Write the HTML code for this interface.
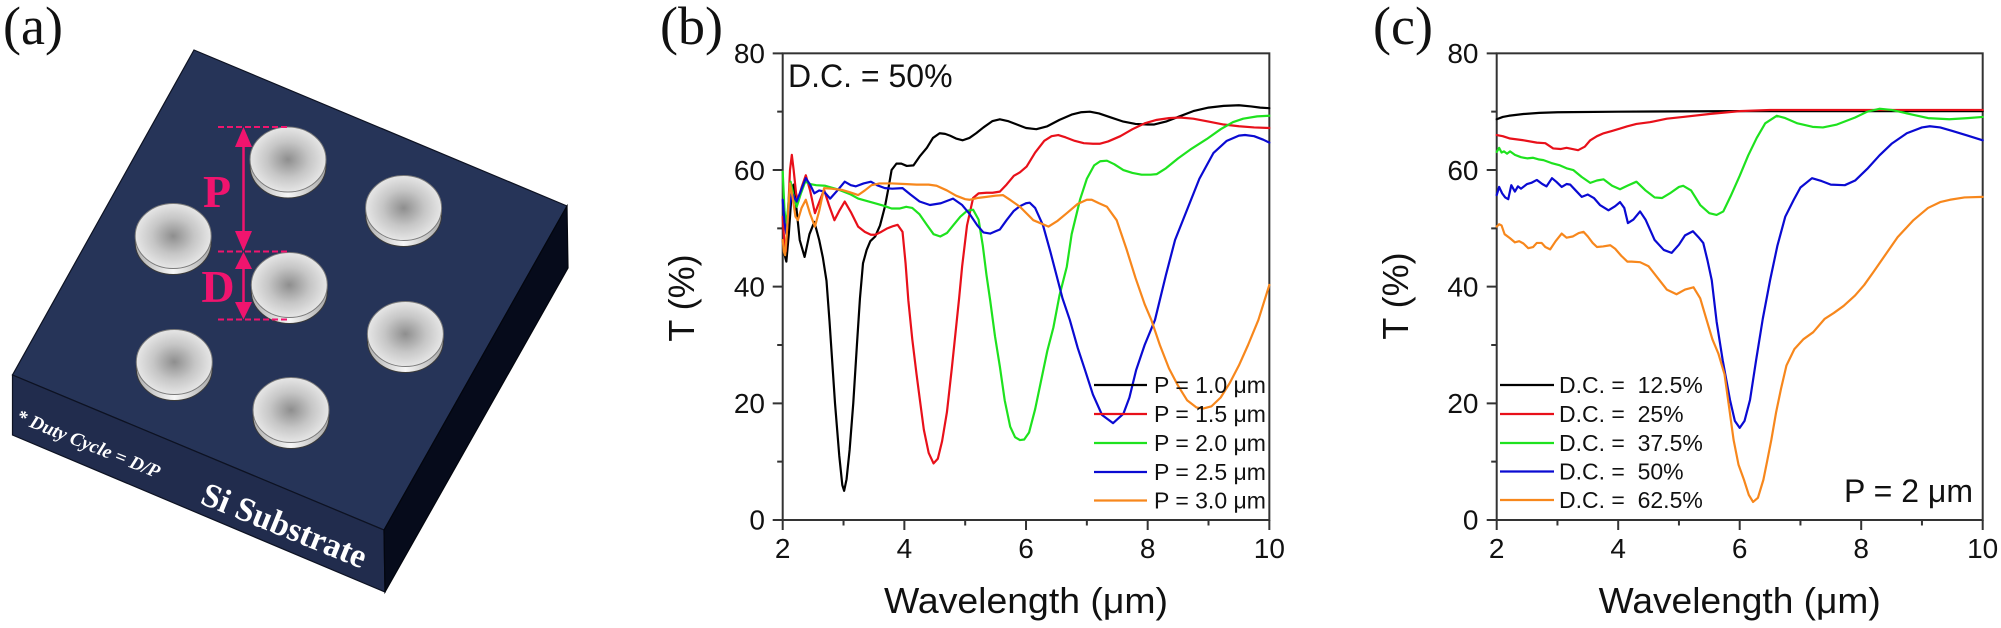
<!DOCTYPE html>
<html><head><meta charset="utf-8">
<style>
html,body{margin:0;padding:0;background:#fff;}
svg{display:block}
.sans{font-family:"Liberation Sans",Arial,sans-serif;}
.serif{font-family:"Liberation Serif","Times New Roman",serif;}
polyline.c{fill:none;stroke-width:2.2;vector-effect:non-scaling-stroke;stroke-linejoin:round;stroke-linecap:round;}
.k{stroke:#000}.r{stroke:#e8101a}.g{stroke:#1ee21e}.b{stroke:#0a0ad2}.o{stroke:#f7871c}
</style></head>
<body>
<svg width="2001" height="628" viewBox="0 0 2001 628" xmlns="http://www.w3.org/2000/svg">
<defs>
<radialGradient id="dg" cx="0.5" cy="0.5" r="0.5">
<stop offset="0" stop-color="#8e8e8e"/><stop offset="0.55" stop-color="#c6c6c6"/><stop offset="1" stop-color="#e6e6e6"/>
</radialGradient>
<linearGradient id="rg" x1="0" y1="0" x2="1" y2="0">
<stop offset="0" stop-color="#b0b0b0"/><stop offset="0.5" stop-color="#f6f6f6"/><stop offset="1" stop-color="#a8a8a8"/>
</linearGradient>
</defs>

<!-- Panel (a) -->
<text x="3" y="44" class="serif" font-size="54" fill="#111">(a)</text>
<polygon points="194,50 567,206 384,530 12.5,375" fill="#263458" stroke="#0d1222" stroke-width="1.2"/>
<polygon points="12.5,375 384,530 385,592 12.5,435" fill="#212c4d" stroke="#0d1222" stroke-width="1.2"/>
<polygon points="384,530 567,206 568,268 385,592" fill="#060b1b" stroke="#03060e" stroke-width="1.2"/>

<g stroke-width="1">
<ellipse cx="288" cy="166" rx="38" ry="32" fill="url(#rg)" stroke="#3a3a3a"/><ellipse cx="288" cy="159.5" rx="38" ry="32.5" fill="url(#dg)" stroke="#7a7a7a"/>
<ellipse cx="403.6" cy="214.5" rx="38" ry="32" fill="url(#rg)" stroke="#3a3a3a"/><ellipse cx="403.6" cy="208" rx="38" ry="32.5" fill="url(#dg)" stroke="#7a7a7a"/>
<ellipse cx="173.2" cy="242.5" rx="38" ry="32" fill="url(#rg)" stroke="#3a3a3a"/><ellipse cx="173.2" cy="236" rx="38" ry="32.5" fill="url(#dg)" stroke="#7a7a7a"/>
<ellipse cx="289.3" cy="291.5" rx="38" ry="32" fill="url(#rg)" stroke="#3a3a3a"/><ellipse cx="289.3" cy="285" rx="38" ry="32.5" fill="url(#dg)" stroke="#7a7a7a"/>
<ellipse cx="405.4" cy="340.5" rx="38" ry="32" fill="url(#rg)" stroke="#3a3a3a"/><ellipse cx="405.4" cy="334" rx="38" ry="32.5" fill="url(#dg)" stroke="#7a7a7a"/>
<ellipse cx="174.3" cy="368.5" rx="38" ry="32" fill="url(#rg)" stroke="#3a3a3a"/><ellipse cx="174.3" cy="362" rx="38" ry="32.5" fill="url(#dg)" stroke="#7a7a7a"/>
<ellipse cx="291" cy="416.5" rx="38" ry="32" fill="url(#rg)" stroke="#3a3a3a"/><ellipse cx="291" cy="410" rx="38" ry="32.5" fill="url(#dg)" stroke="#7a7a7a"/>
</g>

<g stroke="#f0146e" fill="#f0146e">
<path d="M218 127H288 M218 251.5H288 M218 319.5H288" stroke-width="2" stroke-dasharray="6 3" fill="none"/>
<path d="M243.5 140V238 M243.5 262V308" stroke-width="2.5" fill="none"/>
<polygon points="243.5,127 235,147 252,147" stroke="none"/>
<polygon points="243.5,251 235,231 252,231" stroke="none"/>
<polygon points="243.5,252 235,269 252,269" stroke="none"/>
<polygon points="243.5,319.5 235,302 252,302" stroke="none"/>
</g>
<text x="217" y="207" text-anchor="middle" class="serif" font-size="46" font-weight="bold" fill="#f0146e">P</text>
<text x="218" y="302" text-anchor="middle" class="serif" font-size="46" font-weight="bold" fill="#f0146e">D</text>
<text transform="translate(15,421) rotate(22)" class="serif" font-size="19" font-weight="bold" font-style="italic" fill="#fff" textLength="153" lengthAdjust="spacingAndGlyphs">* Duty Cycle = D/P</text>
<text transform="translate(199,503) rotate(22)" class="serif" font-size="34" font-weight="bold" fill="#fff" textLength="175" lengthAdjust="spacingAndGlyphs">Si Substrate</text>

<!-- Panel (b) -->
<text x="660" y="44" class="serif" font-size="54" fill="#111">(b)</text>
<rect x="782.7" y="53.33" width="486.64" height="466.67" fill="none" stroke="#333" stroke-width="2"/>
<path d="M772.7 520H782.7 M772.7 403.33H782.7 M772.7 286.67H782.7 M772.7 170H782.7 M772.7 53.33H782.7 M777.2 461.67H782.7 M777.2 345H782.7 M777.2 228.33H782.7 M777.2 111.67H782.7 M782.7 520V530 M904.36 520V530 M1026.02 520V530 M1147.68 520V530 M1269.34 520V530 M843.53 520V525.5 M965.19 520V525.5 M1086.85 520V525.5 M1208.51 520V525.5" stroke="#333" stroke-width="2" fill="none"/>
<g class="sans" font-size="28" fill="#111" text-anchor="end">
<text x="765" y="529.5">0</text><text x="765" y="413">20</text><text x="765" y="296.5">40</text><text x="765" y="180">60</text><text x="765" y="63">80</text>
</g>
<g class="sans" font-size="28" fill="#111" text-anchor="middle">
<text x="782.7" y="558">2</text><text x="904.36" y="558">4</text><text x="1026.02" y="558">6</text><text x="1147.68" y="558">8</text><text x="1269.34" y="558">10</text>
</g>
<text x="1026" y="613" text-anchor="middle" class="sans" font-size="36" fill="#111" textLength="284" lengthAdjust="spacingAndGlyphs">Wavelength (μm)</text>
<text transform="translate(694,298) rotate(-90)" text-anchor="middle" class="sans" font-size="36" fill="#111">T (%)</text>
<text x="788" y="87" class="sans" font-size="32" fill="#111">D.C. = 50%</text>

<g transform="matrix(60.83 0 0 -5.833 661.04 520)">
<polyline class="c k" points="2.0,48 2.03,45.5 2.06,44.3 2.1,49 2.14,55 2.18,57.5 2.22,54 2.28,48 2.36,45.1 2.44,49 2.52,51.1 2.6,48 2.66,45 2.72,41 2.77,34 2.86,20 2.93,11 2.98,6 3.01,5 3.05,7 3.1,12 3.16,20 3.22,30 3.27,38 3.32,44 3.38,46.3 3.44,47.8 3.52,48.6 3.6,50.5 3.68,53.7 3.74,57 3.79,60 3.87,61.1 3.95,61.1 4.04,60.7 4.15,60.8 4.25,62.3 4.37,63.8 4.47,65.5 4.58,66.3 4.67,66.2 4.75,65.9 4.85,65.4 4.96,65.1 5.07,65.5 5.18,66.3 5.3,67.3 5.45,68.4 5.57,68.7 5.7,68.4 5.85,67.8 6.0,67.2 6.17,67 6.35,67.5 6.55,68.6 6.75,69.5 6.9,69.9 7.05,70 7.2,69.7 7.4,69 7.6,68.3 7.8,67.9 8.0,67.8 8.1,67.8 8.3,68.3 8.5,69.1 8.75,70.1 9.0,70.7 9.25,71 9.5,71.1 9.7,70.9 9.85,70.7 10,70.6"/>
<polyline class="c r" points="2.0,52 2.03,47 2.05,46 2.09,53 2.12,60 2.15,62.6 2.18,60 2.22,56 2.25,54.8 2.31,57 2.38,59.1 2.45,56.5 2.53,52.6 2.6,54.5 2.68,56.6 2.76,54 2.85,51.4 2.93,53 3.02,54.6 3.12,52.8 3.24,50.3 3.35,49.4 3.45,48.9 3.52,48.9 3.62,49.4 3.72,50 3.82,50.4 3.89,50.6 3.97,49.4 4.02,44 4.065,37.7 4.13,31 4.2,25 4.25,21 4.32,15.5 4.4,11.5 4.48,9.7 4.55,10.5 4.62,13.5 4.7,18.5 4.78,26 4.86,34 4.9,38 4.95,43.5 5.03,50.5 5.13,55.2 5.22,56 5.35,56.1 5.45,56.1 5.57,56.3 5.68,57.5 5.8,59 5.9,59.6 6.01,60.6 6.15,63 6.3,65 6.42,65.8 6.53,66 6.65,65.6 6.8,65 6.95,64.6 7.1,64.5 7.21,64.5 7.35,64.9 7.55,65.8 7.75,67 7.95,68 8.15,68.6 8.35,68.9 8.53,69 8.75,68.8 9.0,68.3 9.25,67.8 9.5,67.5 9.75,67.3 10,67.2"/>
<polyline class="c g" points="2.0,59.7 2.03,53 2.06,50.3 2.1,55 2.13,58 2.17,56 2.23,53.7 2.3,56 2.37,58 2.45,57.6 2.55,57.4 2.7,57.3 2.8,57 2.9,56.7 3.0,56.3 3.12,55.8 3.24,55.1 3.38,54.7 3.52,54.3 3.65,53.9 3.79,53.4 3.92,53.4 4.03,53.7 4.13,53.5 4.25,52.4 4.37,50.6 4.48,49 4.59,48.6 4.7,49.2 4.81,50.6 4.92,52 5.03,53 5.13,53.2 5.22,51.5 5.29,47 5.35,42 5.41,37.7 5.49,31.5 5.57,26.3 5.65,20.5 5.74,16 5.82,14.2 5.9,13.7 5.97,13.8 6.05,15 6.15,19 6.25,24 6.35,29 6.45,33 6.55,38.5 6.67,43.4 6.75,49 6.89,55 7.0,58.5 7.12,60.8 7.22,61.5 7.33,61.6 7.45,61 7.6,60 7.75,59.5 7.9,59.2 8.05,59.2 8.15,59.3 8.3,60.3 8.5,62 8.7,63.5 8.97,65.3 9.2,67 9.4,68.2 9.57,68.8 9.8,69.2 10,69.3"/>
<polyline class="c b" points="2.0,54.9 2.03,51 2.06,49 2.1,53 2.15,56 2.23,54.6 2.3,56.5 2.38,58.6 2.45,57.5 2.52,56 2.6,56.5 2.68,56.3 2.78,55.1 2.9,56.5 3.02,58 3.12,57.4 3.2,57.2 3.33,57.7 3.45,58 3.55,57.4 3.68,56.9 3.8,56.8 3.97,56.9 4.1,55.8 4.25,54.6 4.42,54 4.6,54.3 4.8,55.1 4.95,54 5.07,52.5 5.2,50.5 5.3,49.3 5.41,49.1 5.5,49.5 5.57,49.8 5.68,51.4 5.8,53 5.9,53.8 6.0,54.3 6.06,54.4 6.15,53.5 6.28,50.5 6.4,46 6.5,42 6.6,38 6.72,34.3 6.85,29.5 6.97,25.7 7.1,21.5 7.25,18 7.43,16.6 7.6,18.2 7.7,21 7.81,25.7 7.95,30 8.12,34.3 8.3,42 8.45,48 8.64,53 8.85,58.5 9.08,62.9 9.3,65 9.5,65.9 9.6,66 9.75,65.8 9.9,65.2 10,64.7"/>
<polyline class="c o" points="2.0,48 2.02,46 2.04,45.4 2.08,51 2.12,57.7 2.16,55.5 2.21,52 2.25,51.4 2.31,53.5 2.38,54.9 2.45,52.5 2.53,50.3 2.6,53 2.68,56.9 2.8,56.8 2.97,56.6 3.1,56.2 3.24,55.7 3.35,56.5 3.46,57.4 3.59,57.7 3.8,57.7 4.0,57.6 4.2,57.5 4.4,57.5 4.53,57.3 4.7,56.5 4.85,55.6 5.0,55 5.07,54.9 5.2,55.2 5.35,55.4 5.5,55.6 5.62,55.7 5.75,54.8 5.9,53.7 6.12,51.4 6.37,50.3 6.52,51.3 6.67,52.6 6.85,54.2 7.0,54.9 7.08,54.9 7.2,54.3 7.33,53.7 7.49,51.4 7.65,46.5 7.8,41.5 7.95,37 8.06,34.3 8.2,30 8.35,26 8.5,23 8.65,20.5 8.8,19.3 8.91,19.1 9.05,19.5 9.2,21 9.35,23.5 9.5,26.5 9.65,30 9.82,34.3 10,40.3"/>
</g>
<g stroke-width="2.2">
<line x1="1094" y1="385" x2="1147" y2="385" stroke="#000"/>
<line x1="1094" y1="414" x2="1147" y2="414" stroke="#e8101a"/>
<line x1="1094" y1="443" x2="1147" y2="443" stroke="#1ee21e"/>
<line x1="1094" y1="472" x2="1147" y2="472" stroke="#0a0ad2"/>
<line x1="1094" y1="500.5" x2="1147" y2="500.5" stroke="#f7871c"/>
</g>
<g class="sans" font-size="23" fill="#111">
<text x="1154" y="393">P = 1.0 μm</text>
<text x="1154" y="422">P = 1.5 μm</text>
<text x="1154" y="451">P = 2.0 μm</text>
<text x="1154" y="480">P = 2.5 μm</text>
<text x="1154" y="508.5">P = 3.0 μm</text>
</g>

<!-- Panel (c) -->
<text x="1373" y="44" class="serif" font-size="54" fill="#111">(c)</text>
<rect x="1496.7" y="53.33" width="486" height="466.67" fill="none" stroke="#333" stroke-width="2"/>
<path d="M1486.7 520H1496.7 M1486.7 403.33H1496.7 M1486.7 286.67H1496.7 M1486.7 170H1496.7 M1486.7 53.33H1496.7 M1491.2 461.67H1496.7 M1491.2 345H1496.7 M1491.2 228.33H1496.7 M1491.2 111.67H1496.7 M1496.7 520V530 M1618.2 520V530 M1739.7 520V530 M1861.2 520V530 M1982.7 520V530 M1557.45 520V525.5 M1678.95 520V525.5 M1800.45 520V525.5 M1921.95 520V525.5" stroke="#333" stroke-width="2" fill="none"/>
<g class="sans" font-size="28" fill="#111" text-anchor="end">
<text x="1478.5" y="529.5">0</text><text x="1478.5" y="413">20</text><text x="1478.5" y="296.5">40</text><text x="1478.5" y="180">60</text><text x="1478.5" y="63">80</text>
</g>
<g class="sans" font-size="28" fill="#111" text-anchor="middle">
<text x="1496.7" y="558">2</text><text x="1618.2" y="558">4</text><text x="1739.7" y="558">6</text><text x="1861.2" y="558">8</text><text x="1982.7" y="558">10</text>
</g>
<text x="1739.7" y="613" text-anchor="middle" class="sans" font-size="36" fill="#111" textLength="282" lengthAdjust="spacingAndGlyphs">Wavelength (μm)</text>
<text transform="translate(1408,296) rotate(-90)" text-anchor="middle" class="sans" font-size="36" fill="#111">T (%)</text>
<text x="1973" y="502" text-anchor="end" class="sans" font-size="32" fill="#111">P = 2 μm</text>

<g transform="matrix(60.75 0 0 -5.833 1375.2 520)">
<polyline class="c k" points="2.0,68.7 2.1,69.1 2.2,69.3 2.44,69.6 2.7,69.8 3.0,69.9 4,70 6,70.1 10,70.1"/>
<polyline class="c r" points="2.0,66 2.1,65.8 2.22,65.4 2.44,65.1 2.66,64.7 2.8,64.6 2.93,63.7 3.05,63.6 3.15,63.8 3.25,63.6 3.34,63.4 3.45,64 3.54,65.1 3.65,65.8 3.76,66.3 3.9,66.7 4.03,67.1 4.15,67.5 4.3,67.9 4.52,68.2 4.8,68.8 5.07,69.1 5.5,69.6 6.0,70.1 6.5,70.3 8,70.3 10,70.3"/>
<polyline class="c g" points="2.0,63.1 2.04,63.8 2.08,63 2.12,63.2 2.17,62.8 2.22,63.2 2.3,62.6 2.4,62.2 2.5,62 2.6,62.1 2.7,61.8 2.77,61.7 2.9,61.2 3.04,60.8 3.15,60.3 3.26,60 3.4,58.8 3.54,57.8 3.65,58.2 3.76,58.4 3.9,57.3 4.03,56.7 4.15,57.3 4.3,58 4.45,56.5 4.6,55.3 4.72,55.2 4.85,56 5.0,57.1 5.07,57.3 5.2,56.5 5.35,54 5.5,52.6 5.62,52.3 5.73,52.9 5.85,55.5 6.0,59 6.14,62.5 6.28,65.5 6.42,68 6.61,69.3 6.75,68.9 6.95,68 7.2,67.4 7.37,67.3 7.6,67.8 7.9,69 8.1,70 8.3,70.5 8.5,70.3 8.8,69.6 9.1,68.9 9.45,68.7 9.75,68.9 10,69.1"/>
<polyline class="c b" points="2.0,55.7 2.04,57.1 2.09,56 2.14,55.3 2.19,55 2.24,57.4 2.3,56.3 2.35,57.2 2.4,56.8 2.5,57.6 2.57,57.8 2.66,58.3 2.75,57.6 2.82,57.2 2.91,58.6 2.98,58 3.07,57.1 3.15,57.6 3.21,57.5 3.3,56.5 3.4,55.4 3.5,55.8 3.6,55.2 3.7,54 3.84,53.1 3.95,53.8 4.03,54.5 4.1,53.5 4.16,50.9 4.25,51.5 4.36,52.9 4.45,51.5 4.6,48 4.75,46.3 4.88,45.8 5.0,47.2 5.1,48.8 5.23,49.5 5.32,48.5 5.4,47.5 5.47,44.5 5.54,41.1 5.62,34 5.72,27.4 5.84,20.6 5.92,17 6.0,15.8 6.08,17 6.17,20.6 6.27,27.4 6.38,34.5 6.5,41.1 6.62,47 6.75,52 6.89,54.9 7.0,57 7.19,58.6 7.35,58.1 7.5,57.5 7.73,57.4 7.9,58.2 8.1,60.2 8.3,62.5 8.5,64.5 8.75,66.3 9.0,67.3 9.13,67.5 9.3,67.3 9.5,66.7 9.75,65.9 10,65.1"/>
<polyline class="c o" points="2.0,50.3 2.04,50.7 2.08,50.5 2.13,49 2.22,48.3 2.3,47.6 2.37,47.8 2.44,47.4 2.52,46.6 2.6,46.8 2.66,47.5 2.74,47.5 2.8,46.8 2.88,46.4 2.97,47.8 3.07,49.1 3.15,48.4 3.25,48.6 3.35,49.2 3.43,49.4 3.5,48.6 3.58,47.5 3.65,46.8 3.75,46.9 3.87,47.1 3.95,46.5 4.05,45.3 4.15,44.3 4.22,44.3 4.36,44.2 4.5,43.5 4.65,41.5 4.8,39.5 4.96,38.7 5.1,39.5 5.24,39.9 5.35,38 5.45,34.5 5.55,31 5.65,28.5 5.75,25 5.83,19 5.9,13.7 5.98,9.5 6.07,6.9 6.15,4.3 6.22,3.1 6.3,3.8 6.39,6.9 6.45,10 6.52,13.7 6.6,18.5 6.68,22.5 6.77,26.5 6.9,29.3 7.05,31 7.21,32.2 7.4,34.5 7.55,35.5 7.71,36.7 7.9,38.5 8.05,40.3 8.2,42.5 8.4,45.5 8.6,48.5 8.86,51.4 9.1,53.5 9.3,54.5 9.46,54.9 9.7,55.3 10,55.4"/>
</g>
<g stroke-width="2.2">
<line x1="1500" y1="385" x2="1554" y2="385" stroke="#000"/>
<line x1="1500" y1="414" x2="1554" y2="414" stroke="#e8101a"/>
<line x1="1500" y1="443" x2="1554" y2="443" stroke="#1ee21e"/>
<line x1="1500" y1="471.5" x2="1554" y2="471.5" stroke="#0a0ad2"/>
<line x1="1500" y1="500" x2="1554" y2="500" stroke="#f7871c"/>
</g>
<g class="sans" font-size="23" fill="#111">
<text x="1559" y="393">D.C. =&#160; 12.5%</text>
<text x="1559" y="422">D.C. =&#160; 25%</text>
<text x="1559" y="451">D.C. =&#160; 37.5%</text>
<text x="1559" y="479.5">D.C. =&#160; 50%</text>
<text x="1559" y="508">D.C. =&#160; 62.5%</text>
</g>
</svg>
</body></html>
